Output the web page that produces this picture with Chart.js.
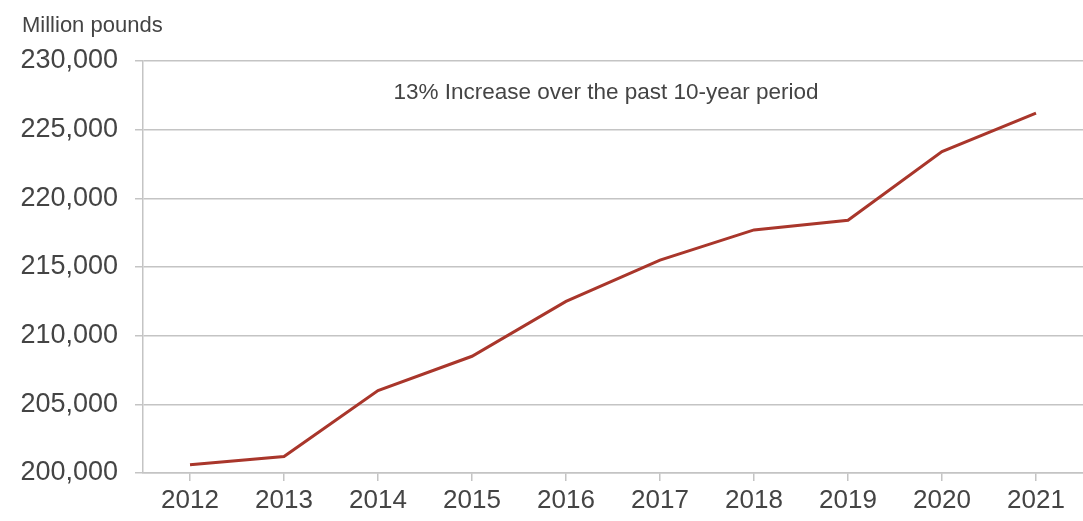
<!DOCTYPE html>
<html>
<head>
<meta charset="utf-8">
<title>Million pounds</title>
<script src="https://cdn.jsdelivr.net/npm/chart.js@4/dist/chart.umd.min.js"></script>
<style>
    html, body { margin: 0; padding: 0; background: #fff; }
    #wrap { width: 1083px; height: 521px; position: relative; }
</style>
</head>
<body>
<div id="wrap"><canvas id="chart"></canvas></div>
<script>
// ─── Data ───
const years = ['2012', '2013', '2014', '2015', '2016', '2017', '2018', '2019', '2020', '2021'];
const values = [200600, 201200, 206000, 208500, 212500, 215500, 217700, 218400, 223400, 226200];
const yTicks = [200000, 205000, 210000, 215000, 220000, 225000, 230000];
const unitLabel = 'Million pounds';
const note = '13% Increase over the past 10-year period';

const FONT = "'Liberation Sans', Arial, sans-serif";
const TEXT = '#444';
const GRID = '#c4c4c4';

// ─── Text plugins: unit label top-left, note inside plot ───
const extraText = {
    id: 'extraText',
    afterDraw(chart) {
        const { ctx, chartArea } = chart;
        ctx.save();
        ctx.fillStyle = TEXT;
        ctx.textBaseline = 'middle';
        ctx.font = '22px ' + FONT;
        ctx.textAlign = 'left';
        ctx.fillText(unitLabel, 22, 26);
        ctx.font = '22.5px ' + FONT;
        ctx.textAlign = 'center';
        ctx.fillText(note, 606, chartArea.top + 32);
        ctx.restore();
    }
};

new Chart(document.getElementById('chart'), {
    type: 'line',
    data: {
        labels: years,
        datasets: [{
            data: values,
            borderColor: '#a9362b',
            borderWidth: 3,
            pointRadius: 0,
            tension: 0,
            fill: false
        }]
    },
    options: {
        responsive: true,
        maintainAspectRatio: false,
        animation: false,
        layout: { padding: { top: 61, right: 0, left: 0, bottom: 0 } },
        plugins: {
            legend: { display: false },
            tooltip: { enabled: false }
        },
        scales: {
            x: {
                offset: true,
                grid: { drawOnChartArea: false, drawTicks: true, tickLength: 8, offset: false, color: GRID, lineWidth: 1.5 },
                border: { display: true, color: GRID, width: 1.5 },
                ticks: { color: TEXT, font: { family: FONT, size: 26 }, padding: 4, maxRotation: 0 },
                afterFit(scale) { scale.height = 48; }
            },
            y: {
                min: 200000,
                max: 230000,
                afterBuildTicks(scale) { scale.ticks = yTicks.map(v => ({ value: v })); },
                grid: { color: GRID, lineWidth: 1.5, tickLength: 8 },
                border: { display: true, color: GRID, width: 1.5 },
                ticks: {
                    color: TEXT,
                    font: { family: FONT, size: 27 },
                    padding: 17,
                    callback: v => v.toLocaleString('en-US')
                },
                afterFit(scale) { scale.width = 143; }
            }
        }
    },
    plugins: [extraText]
});
</script>
</body>
</html>
